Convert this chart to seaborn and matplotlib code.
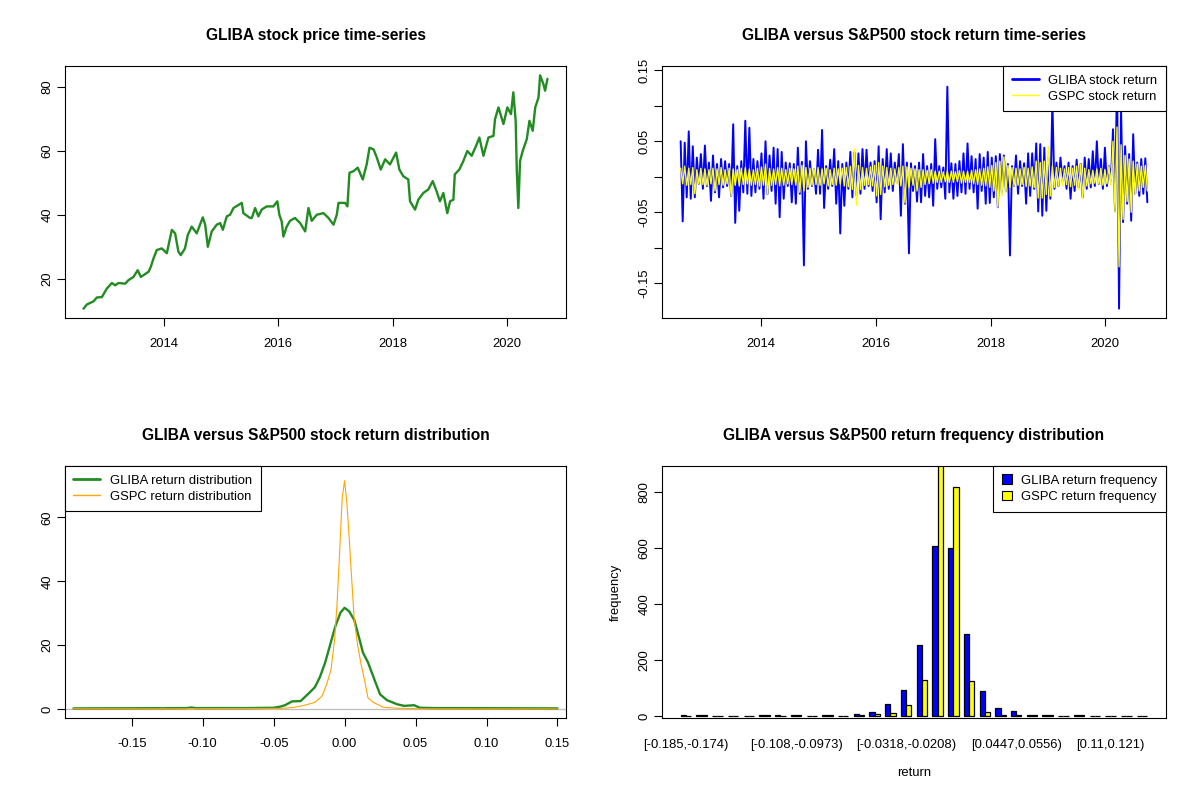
import matplotlib
matplotlib.use("Agg")
import matplotlib.pyplot as plt
import matplotlib.dates as mdates
from matplotlib.lines import Line2D
from matplotlib.patches import Patch
import pandas as pd
import seaborn as sns

# ---------------- data ----------------
price_dates = ["2012-08-06","2012-08-27","2012-10-09","2012-10-30","2012-12-01","2013-01-02","2013-02-03","2013-02-24","2013-03-17","2013-04-29",
               "2013-05-20","2013-06-21","2013-07-18","2013-08-07","2013-09-25","2013-10-10","2013-10-27","2013-11-17","2013-12-19","2014-01-20",
               "2014-02-21","2014-03-14","2014-04-04","2014-04-19","2014-05-16","2014-06-03","2014-06-28","2014-07-30","2014-09-07","2014-09-22",
               "2014-10-09","2014-11-03","2014-12-05","2014-12-27","2015-01-13","2015-02-07","2015-02-28","2015-03-22","2015-05-14","2015-05-24",
               "2015-07-06","2015-07-17","2015-08-07","2015-08-28","2015-09-18","2015-10-20","2015-12-02","2015-12-27","2016-01-09","2016-01-24",
               "2016-02-04","2016-02-25","2016-03-17","2016-04-18","2016-05-21","2016-06-22","2016-07-13","2016-08-03","2016-09-04","2016-10-17",
               "2016-11-18","2016-12-20","2017-01-10","2017-01-21","2017-03-04","2017-03-19","2017-04-01","2017-04-27","2017-05-24","2017-06-25",
               "2017-07-20","2017-08-07","2017-09-02","2017-09-23","2017-10-18","2017-11-15","2017-12-16","2018-01-24","2018-02-14","2018-03-11",
               "2018-04-12","2018-04-23","2018-05-25","2018-06-15","2018-07-17","2018-08-18","2018-09-15","2018-10-10","2018-10-31","2018-11-22",
               "2018-12-17","2019-01-04","2019-01-25","2019-02-03","2019-03-04","2019-03-30","2019-04-24","2019-05-22","2019-06-19","2019-07-10",
               "2019-08-05","2019-09-06","2019-10-08","2019-10-18","2019-11-09","2019-12-11","2020-01-05","2020-01-28","2020-02-12","2020-02-27",
               "2020-03-05","2020-03-15","2020-03-26","2020-04-12","2020-05-08","2020-05-25","2020-06-15","2020-07-01","2020-07-22","2020-08-01",
               "2020-08-22","2020-09-02","2020-09-17"]
price_values = [10.7, 12.0, 13.0, 14.2, 14.3, 17.0, 18.7, 18.0, 18.7, 18.5,
                19.6, 20.6, 22.7, 20.6, 22.2, 23.8, 26.4, 29.0, 29.5, 28.0,
                35.3, 34.2, 28.5, 27.4, 29.5, 33.7, 36.3, 34.2, 39.2, 36.9,
                30.0, 34.8, 36.9, 37.4, 35.3, 39.5, 40.0, 42.1, 43.7, 40.5,
                39.0, 39.0, 42.1, 39.5, 41.6, 42.6, 42.6, 44.2, 40.0, 37.9,
                33.2, 36.3, 38.1, 39.0, 37.4, 34.8, 42.1, 38.1, 40.0, 40.5,
                39.0, 36.9, 40.0, 43.7, 43.7, 42.6, 53.1, 53.6, 54.7, 51.0,
                55.7, 60.9, 60.4, 57.8, 54.1, 57.3, 55.7, 59.4, 54.1, 52.0,
                51.0, 44.2, 41.6, 44.7, 46.8, 47.9, 50.5, 47.3, 44.2, 46.8,
                40.5, 44.2, 44.7, 52.6, 54.1, 56.8, 59.9, 58.4, 61.5, 64.1,
                58.4, 64.1, 64.6, 69.8, 73.5, 68.3, 73.5, 71.4, 78.2, 69.3,
                54.1, 42.1, 56.8, 59.9, 63.6, 69.3, 66.2, 73.5, 76.6, 83.5,
                80.8, 78.7, 82.4]

# daily returns: per column of the picture, the highest and lowest value seen
return_start = "2012-08-06"
return_end = "2020-09-25"
gliba_hi = [0.050, 0.048, 0.064, 0.043, 0.027, 0.032, 0.044, 0.020, 0.030, 0.018,
            0.025, 0.022, 0.018, 0.074, 0.015, 0.022, 0.079, 0.069, 0.025, 0.022,
            0.033, 0.050, 0.030, 0.041, 0.039, 0.035, 0.020, 0.019, 0.018,
            0.041, 0.021, 0.050, 0.022, 0.011, 0.038, 0.066, 0.015, 0.024, 0.039,
            0.022, 0.018, 0.020, 0.035, 0.034, 0.033, 0.039, 0.038, 0.020, 0.022,
            0.043, 0.025, 0.039, 0.033, 0.020, 0.032, 0.046, 0.020, 0.019, 0.015,
            0.020, 0.032, 0.015, 0.018, 0.053, 0.015, 0.013, 0.127, 0.019, 0.018,
            0.022, 0.033, 0.047, 0.029, 0.025, 0.032, 0.027, 0.035, 0.027, 0.029,
            0.032, 0.030, 0.018, 0.015, 0.030, 0.022, 0.019, 0.033, 0.033, 0.047,
            0.046, 0.041, 0.027, 0.105, 0.020, 0.027, 0.015, 0.020, 0.015, 0.024,
            0.018, 0.027, 0.025, 0.036, 0.050, 0.025, 0.041, 0.015, 0.067, 0.143,
            0.095, 0.043, 0.032, 0.060, 0.020, 0.025, 0.026]
gliba_lo = [-0.063, -0.029, -0.031, -0.029, -0.010, -0.017, -0.013, -0.034, -0.022, -0.029,
            -0.015, -0.013, -0.027, -0.065, -0.048, -0.022, -0.024, -0.027, -0.022, -0.017,
            -0.031, -0.024, -0.020, -0.038, -0.057, -0.031, -0.013, -0.036, -0.038,
            -0.024, -0.125, -0.017, -0.013, -0.024, -0.024, -0.044, -0.017, -0.013, -0.038,
            -0.080, -0.041, -0.017, -0.029, -0.026, -0.024, -0.017, -0.013, -0.020, -0.036,
            -0.060, -0.022, -0.017, -0.020, -0.008, -0.055, -0.038, -0.108, -0.020, -0.035,
            -0.036, -0.027, -0.029, -0.041, -0.017, -0.015, -0.031, -0.022, -0.031, -0.027,
            -0.022, -0.024, -0.017, -0.022, -0.045, -0.020, -0.038, -0.037, -0.029, -0.043,
            -0.022, -0.020, -0.111, -0.013, -0.024, -0.013, -0.038, -0.027, -0.017, -0.049,
            -0.055, -0.048, -0.031, -0.017, -0.013, -0.006, -0.017, -0.031, -0.020, -0.015,
            -0.029, -0.017, -0.015, -0.013, -0.010, -0.017, -0.013, -0.006, -0.048, -0.186,
            -0.064, -0.038, -0.062, -0.024, -0.027, -0.024, -0.036]
gspc_hi = [0.012, 0.015, 0.012, 0.013, 0.010, 0.012, 0.011, 0.010, 0.012, 0.011,
           0.013, 0.010, 0.012, 0.011, 0.010, 0.012, 0.013, 0.011, 0.010, 0.012,
           0.014, 0.018, 0.012, 0.011, 0.013, 0.012, 0.010, 0.012, 0.011,
           0.015, 0.016, 0.013, 0.012, 0.012, 0.013, 0.011, 0.012, 0.010, 0.012,
           0.011, 0.012, 0.013, 0.015, 0.039, 0.016, 0.013, 0.012, 0.014, 0.016,
           0.020, 0.015, 0.013, 0.012, 0.011, 0.013, 0.015, 0.014, 0.012, 0.011,
           0.010, 0.010, 0.009, 0.010, 0.008, 0.008, 0.007, 0.008, 0.008, 0.007,
           0.009, 0.008, 0.008, 0.009, 0.010, 0.011, 0.012, 0.014, 0.016, 0.020,
           0.022, 0.028, 0.016, 0.013, 0.012, 0.011, 0.013, 0.012, 0.014, 0.022,
           0.020, 0.022, 0.043, 0.015, 0.013, 0.012, 0.011, 0.013, 0.012, 0.015,
           0.018, 0.012, 0.010, 0.009, 0.011, 0.012, 0.010, 0.015, 0.050, 0.070,
           0.045, 0.030, 0.025, 0.022, 0.018, 0.015, 0.016]
gspc_lo = [-0.010, -0.012, -0.011, -0.024, -0.010, -0.011, -0.012, -0.010, -0.020, -0.011,
           -0.012, -0.010, -0.027, -0.012, -0.013, -0.011, -0.010, -0.012, -0.011, -0.013,
           -0.012, -0.024, -0.012, -0.011, -0.013, -0.012, -0.010, -0.011, -0.012,
           -0.022, -0.020, -0.015, -0.012, -0.011, -0.012, -0.010, -0.013, -0.011, -0.012,
           -0.010, -0.013, -0.014, -0.018, -0.040, -0.018, -0.012, -0.011, -0.013, -0.027,
           -0.025, -0.014, -0.012, -0.011, -0.010, -0.013, -0.037, -0.015, -0.012, -0.020,
           -0.015, -0.011, -0.010, -0.009, -0.008, -0.008, -0.007, -0.008, -0.008, -0.007,
           -0.009, -0.008, -0.008, -0.010, -0.011, -0.012, -0.013, -0.015, -0.020, -0.043,
           -0.027, -0.022, -0.015, -0.013, -0.012, -0.011, -0.014, -0.013, -0.015, -0.030,
           -0.030, -0.025, -0.027, -0.015, -0.013, -0.012, -0.011, -0.014, -0.012, -0.018,
           -0.030, -0.013, -0.010, -0.009, -0.010, -0.012, -0.010, -0.012, -0.050, -0.127,
           -0.060, -0.035, -0.050, -0.025, -0.020, -0.015, -0.020]

# return density curves
dens_gliba_x = [-0.191, -0.111, -0.108, -0.105, -0.070, -0.050, -0.045, -0.042, -0.037, -0.031,
                -0.026, -0.021, -0.0175, -0.0138, -0.0102, -0.0066, -0.0029, 0.0, 0.0032, 0.0068,
                0.0104, 0.0129, 0.0165, 0.0201, 0.025, 0.0298, 0.037, 0.042, 0.049, 0.053,
                0.064, 0.076, 0.150]
dens_gliba_y = [0.2, 0.3, 0.5, 0.3, 0.3, 0.4, 0.8, 1.2, 2.4, 2.5,
                4.6, 6.8, 9.9, 14.4, 20.1, 25.8, 30.2, 31.7, 30.6, 27.9,
                22.0, 17.7, 14.6, 10.3, 4.6, 2.8, 1.5, 1.0, 1.2, 0.4,
                0.3, 0.3, 0.2]
dens_gspc_x = [-0.191, -0.130, -0.128, -0.126, -0.060, -0.045, -0.036, -0.028, -0.021, -0.016,
               -0.0126, -0.0095, -0.007, -0.0053, -0.0034, -0.0017, 0.0, 0.0015, 0.0032, 0.0051,
               0.0068, 0.0092, 0.0116, 0.0141, 0.0165, 0.020, 0.027, 0.035, 0.052, 0.150]
dens_gspc_y = [0.1, 0.1, 0.3, 0.1, 0.2, 0.2, 0.5, 1.2, 2.1, 4.0,
               7.8, 12.5, 22.0, 33.0, 50.0, 66.0, 71.5, 65.0, 54.0, 40.0,
               28.0, 20.0, 14.0, 9.0, 3.5, 2.2, 0.6, 0.3, 0.1, 0.05]

# return frequency table
hist_breaks = ["-0.185", "-0.174", "-0.163", "-0.152", "-0.141", "-0.13", "-0.119", "-0.108", "-0.0973", "-0.0864",
               "-0.0754", "-0.0645", "-0.0536", "-0.0427", "-0.0318", "-0.0208", "-0.00989", "0.000994", "0.0119", "0.0228",
               "0.0338", "0.0447", "0.0556", "0.0666", "0.0775", "0.0884", "0.0994", "0.11", "0.121", "0.132", "0.143"]
hist_gliba = [2, 2, 0, 0, 0, 2, 2, 2, 1, 2, 1, 8, 15, 44, 94, 255, 605, 598, 291, 91, 29, 18, 2, 2, 1, 2, 0, 1, 1, 0]
hist_gspc = [1, 2, 0, 0, 0, 2, 1, 2, 0, 2, 0, 3, 8, 12, 41, 130, 905, 816, 126, 15, 3, 2, 2, 2, 0, 2, 0, 0, 1, 0]
hist_shown_labels = [0, 7, 14, 21, 27]

# ---------------- style ----------------
sns.set_style("ticks")
plt.rcParams["font.family"] = ["Liberation Sans", "DejaVu Sans"]
plt.rcParams.update({
    "axes.edgecolor": "black", "axes.labelcolor": "black", "text.color": "black",
    "xtick.color": "black", "ytick.color": "black", "axes.linewidth": 0.8,
})

BLUE, YELLOW, GREEN, ORANGE = "#0000FF", "#FFFF00", "#228B22", "#FFA500"
FS = 9.4

fig = plt.figure(figsize=(12, 8), dpi=100)
W, H = 1200.0, 800.0
ax1 = fig.add_axes([65 / W, 1 - 318 / H, 501 / W, 252 / H])
ax2 = fig.add_axes([662 / W, 1 - 318 / H, 504 / W, 252 / H])
ax3 = fig.add_axes([65 / W, 1 - 718 / H, 501 / W, 252 / H])
ax4 = fig.add_axes([662 / W, 1 - 718 / H, 504 / W, 252 / H])

LEG = dict(borderaxespad=0, fancybox=False, edgecolor="black", framealpha=1,
           fontsize=FS, borderpad=0.65, labelspacing=0.3, handletextpad=0.75)


def r_style(ax, title):
    for s in ax.spines.values():
        s.set_visible(True)
        s.set_color("black")
        s.set_linewidth(0.8)
    ax.grid(False)
    ax.tick_params(axis="both", direction="out", length=5.5, width=0.8,
                   colors="black", labelsize=FS)
    ax.tick_params(axis="x", pad=9)
    ax.tick_params(axis="y", pad=3, labelrotation=90)
    for lab in ax.get_yticklabels():
        lab.set_va("center")
    ax.set_title(title, fontsize=11.2, fontweight="bold", pad=18.5)


# ---- panel 1: price ----
df_price = pd.DataFrame({"date": pd.to_datetime(price_dates), "price": price_values})
sns.lineplot(data=df_price, x="date", y="price", color=GREEN, linewidth=1.7, ax=ax1)
ax1.margins(x=0.04, y=0.04)
ax1.xaxis.set_major_locator(mdates.YearLocator(2))
ax1.xaxis.set_major_formatter(mdates.DateFormatter("%Y"))
ax1.set_yticks([20, 40, 60, 80])
ax1.set_xlabel("")
ax1.set_ylabel("")
r_style(ax1, "GLIBA stock price time-series")

# ---- panel 2: returns ----
gliba_series = [v for pair in zip(gliba_hi, gliba_lo) for v in pair]
gspc_series = [v for pair in zip(gspc_hi, gspc_lo) for v in pair]
ret_dates = pd.date_range(return_start, return_end, periods=len(gliba_series))
df_ret = pd.DataFrame({"date": ret_dates, "GLIBA": gliba_series, "GSPC": gspc_series})
sns.lineplot(data=df_ret, x="date", y="GLIBA", color=BLUE, linewidth=1.4, ax=ax2)
sns.lineplot(data=df_ret, x="date", y="GSPC", color=YELLOW, linewidth=1.0, ax=ax2)
ax2.margins(x=0.04, y=0.04)
ax2.xaxis.set_major_locator(mdates.YearLocator(2))
ax2.xaxis.set_major_formatter(mdates.DateFormatter("%Y"))
yt = [-0.15, -0.10, -0.05, 0.0, 0.05, 0.10, 0.15]
ax2.set_yticks(yt)
ax2.set_yticklabels(["-0.15", "", "-0.05", "", "0.05", "", "0.15"])
ax2.set_xlabel("")
ax2.set_ylabel("")
leg2 = ax2.legend(handles=[Line2D([], [], color=BLUE, lw=2), Line2D([], [], color=YELLOW, lw=1)],
                  labels=["GLIBA stock return", "GSPC stock return"], loc="upper right",
                  handlelength=2.05, **LEG)
leg2.get_frame().set_linewidth(0.8)
r_style(ax2, "GLIBA versus S&P500 stock return time-series")

# ---- panel 3: density ----
ax3.axhline(0, color="#BEBEBE", lw=0.9, zorder=1)
sns.lineplot(x=dens_gliba_x, y=dens_gliba_y, color=GREEN, linewidth=1.7, ax=ax3)
sns.lineplot(x=dens_gspc_x, y=dens_gspc_y, color=ORANGE, linewidth=0.8, ax=ax3)
ax3.set_xlim(-0.197, 0.156)
ax3.set_ylim(-2.8, 76.1)
ax3.set_xticks([-0.15, -0.10, -0.05, 0.0, 0.05, 0.10, 0.15])
ax3.set_xticklabels(["-0.15", "-0.10", "-0.05", "0.00", "0.05", "0.10", "0.15"])
ax3.set_yticks([0, 20, 40, 60])
leg3 = ax3.legend(handles=[Line2D([], [], color=GREEN, lw=2), Line2D([], [], color=ORANGE, lw=1)],
                  labels=["GLIBA return distribution", "GSPC return distribution"], loc="upper left",
                  handlelength=2.05, **LEG)
leg3.get_frame().set_linewidth(0.8)
r_style(ax3, "GLIBA versus S&P500 stock return distribution")

# ---- panel 4: frequency bars ----
bin_labels = [f"[{a},{b})" for a, b in zip(hist_breaks[:-1], hist_breaks[1:])]
df_hist = pd.DataFrame({
    "bin": bin_labels * 2,
    "count": hist_gliba + hist_gspc,
    "series": ["GLIBA return frequency"] * len(bin_labels) + ["GSPC return frequency"] * len(bin_labels),
})
sns.barplot(data=df_hist, x="bin", y="count", hue="series", order=bin_labels,
            hue_order=["GLIBA return frequency", "GSPC return frequency"],
            palette={"GLIBA return frequency": BLUE, "GSPC return frequency": YELLOW},
            width=2 / 3, gap=0, saturation=1, edgecolor="black", linewidth=0.9,
            errorbar=None, legend=False, ax=ax4)
n = len(bin_labels)
ax4.set_xlim(-1.52, n - 1 + 1.52)
ax4.set_ylim(-7, 892)
ax4.set_xticks(range(n))
ax4.set_xticklabels([lab if i in hist_shown_labels else "" for i, lab in enumerate(bin_labels)])
ax4.set_yticks([0, 200, 400, 600, 800])
leg4 = ax4.legend(handles=[Patch(facecolor=BLUE, edgecolor="black", lw=0.8),
                           Patch(facecolor=YELLOW, edgecolor="black", lw=0.8)],
                  labels=["GLIBA return frequency", "GSPC return frequency"], loc="upper right",
                  handlelength=0.75, handleheight=0.75, **LEG)
leg4.get_frame().set_linewidth(0.8)
r_style(ax4, "GLIBA versus S&P500 return frequency distribution")
ax4.tick_params(axis="x", length=0, pad=15)
ax4.set_xlabel("return", fontsize=FS, labelpad=12)
ax4.set_ylabel("frequency", fontsize=FS, labelpad=12)

fig.savefig("out.png", dpi=100, facecolor="white")
